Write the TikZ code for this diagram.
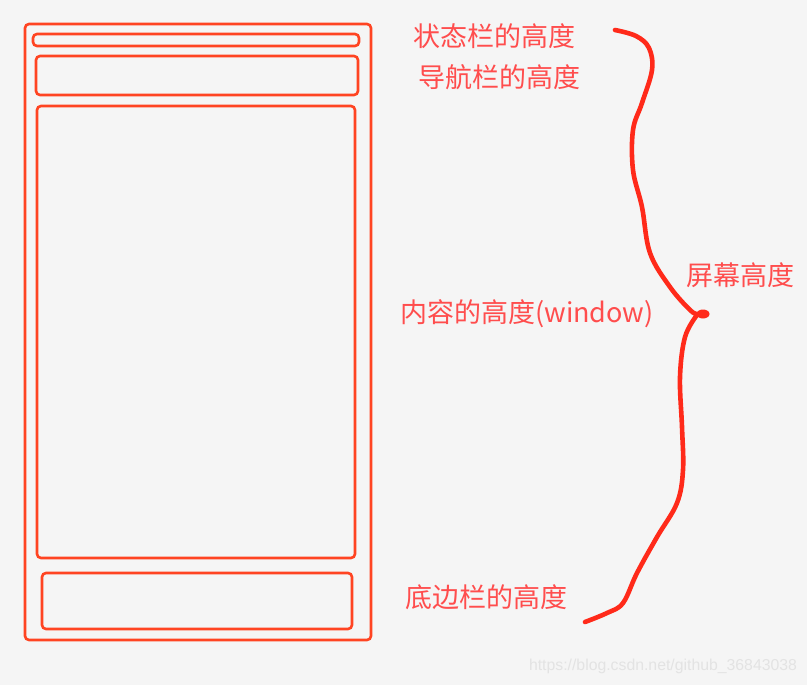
\documentclass[tikz,border=0pt]{standalone}
\usepackage{fontspec}
\newfontfamily\cjk{Noto Sans CJK SC}
\setsansfont{Liberation Sans}
\definecolor{frame red}{HTML}{FF4422}
\definecolor{label red}{HTML}{FF4D4D}
\definecolor{brace red}{HTML}{FF2A1A}
\definecolor{paper}{HTML}{F5F5F5}

\begin{document}
\begin{tikzpicture}[x=1pt,y=-1pt,
    box line/.style={draw=frame red,line width=2.6pt,rounded corners=4pt},
    label text/.style={text=label red,inner sep=0pt,font=\cjk\fontsize{27}{31}\selectfont}]
        \fill[paper] (0,0) rectangle (807,685);
        \useasboundingbox (0,0) rectangle (807,685);
        % phone outline and its bars
        \draw[box line] (25,24) rectangle (371,640);
        \draw[box line] (33,34) rectangle (359,46);
        \draw[box line] (36,56) rectangle (358,95);
        \draw[box line] (37,106) rectangle (355,558);
        \draw[box line] (42,573) rectangle (352,629);
        % labels
        \node[label text] (status) at (494,36) {状态栏的高度};
        \node[label text] (navbar) at (499,77) {导航栏的高度};
        \node[label text] (content) at (527,314) {内容的高度(window)};
        \node[label text] (bottom) at (486,597) {底边栏的高度};
        \node[label text] (screen) at (740,275) {屏幕高度};
        % hand drawn brace
        \draw[brace red,line width=4.6pt,line cap=round,line join=round]
            plot[smooth,tension=0.6] coordinates {(615,30) (636,36) (649,48) (652,70) (642,103)
                (633,130) (633,170) (642,207) (650,253) (670,287) (690,310) (697,314)};
        \draw[brace red,line width=4.6pt,line cap=round,line join=round]
            plot[smooth,tension=0.6] coordinates {(697,315) (685,337) (680,377) (682,427)
                (683,470) (677,503) (657,537) (637,573) (623,603) (607,613) (585,622)};
        \fill[brace red] (703,314) ellipse (6.5pt and 4.5pt);
        % watermark
        \node[text=black!11,inner sep=0pt,font=\sffamily\fontsize{15.8}{18}\selectfont] (mark) at (663,666)
            {https://blog.csdn.net/github\_36843038};
    \end{tikzpicture}
\end{document}
